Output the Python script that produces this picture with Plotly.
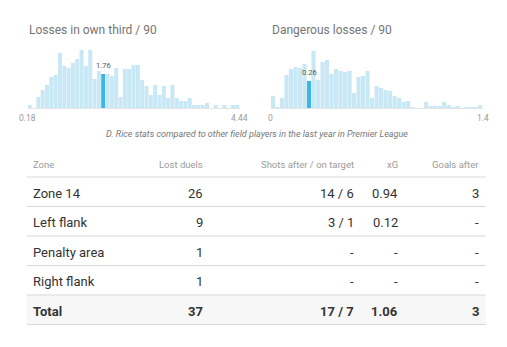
import numpy as np
import plotly.graph_objects as go

W, H = 507, 347

# ---------------- data ----------------
hist_titles = ["Losses in own third / 90", "Dangerous losses / 90"]

own_third_counts = [3, 0, 11, 18, 23, 31, 33, 55, 42, 40, 45, 49, 58, 42, 58, 29, 37,
                    34, 34, 32, 40, 11, 39, 39, 43, 43, 28, 22, 13, 23, 13, 22, 10, 23,
                    10, 7, 7, 10, 3, 3, 3, 5, 0, 3, 0, 3, 0, 3, 3]
own_third_range = [0.18, 4.44]
own_third_player = "1.76"
own_third_idx = 17

dangerous_counts = [12, 1, 10, 33, 39, 41, 40, 44, 27, 57, 28, 46, 48, 34, 39, 37, 36,
                    37, 15, 31, 32, 37, 10, 22, 20, 18, 17, 12, 10, 6, 7, 1, 0, 0, 6,
                    2, 2, 2, 6, 3, 1, 2, 0, 1, 1, 1, 3]
dangerous_range = [0, 1.4]
dangerous_player = "0.26"
dangerous_idx = 8

caption = "D. Rice stats compared to other field players in the last year in Premier League"

table_header = ["Zone", "Lost duels", "Shots after / on target", "xG", "Goals after"]
zones = ["Zone 14", "Left flank", "Penalty area", "Right flank"]
lost_duels = ["26", "9", "1", "1"]
shots_on_target = ["14 / 6", "3 / 1", "-", "-"]
xg = ["0.94", "0.12", "-", "-"]
goals_after = ["3", "-", "-", "-"]
total_row = ["Total", "37", "17 / 7", "1.06", "3"]

# ---------------- styling ----------------
FONT = "Roboto"
LIGHT = "#c8e8f6"
HIGHLIGHT = "#3cb4e5"


def px(x):
    return x / W


def py(y):
    return 1 - y / H


fig = go.Figure()

hists = [
    (own_third_counts, own_third_range, own_third_idx, own_third_player, (27.5, 239.5), "x", "y"),
    (dangerous_counts, dangerous_range, dangerous_idx, dangerous_player, (270.7, 482.5), "x2", "y2"),
]

annotations = []
shapes = []
layout_axes = {}

for k, (counts, rng, idx, label, (x0, x1), xa, ya) in enumerate(hists):
    n = len(counts)
    edges = np.linspace(rng[0], rng[1], n + 1)
    centers = (edges[:-1] + edges[1:]) / 2
    colors = [HIGHLIGHT if i == idx else LIGHT for i in range(n)]
    fig.add_trace(go.Bar(x=centers, y=counts, marker=dict(color=colors, line=dict(width=0)),
                         xaxis=xa, yaxis=ya, hoverinfo="skip", showlegend=False))
    suffix = "" if k == 0 else "2"
    layout_axes["xaxis" + suffix] = dict(domain=[px(x0), px(x1)], range=rng, showgrid=False,
                                         zeroline=False, showticklabels=False, showline=True,
                                         linecolor="#e4e4e4", linewidth=1, anchor=ya, fixedrange=True)
    layout_axes["yaxis" + suffix] = dict(domain=[py(108), py(48)], range=[0, 60], visible=False,
                                         anchor=xa, fixedrange=True)
    # title
    annotations.append(dict(text=hist_titles[k], x=px(x0 - 1), y=py(30), xref="paper", yref="paper",
                            xanchor="left", yanchor="middle", showarrow=False,
                            font=dict(family=FONT, size=12, color="#757575")))
    # ends
    for v in rng:
        annotations.append(dict(text=("%g" % v), x=v, y=py(118), xref=xa, yref="paper",
                                xanchor="center", yanchor="middle", showarrow=False,
                                font=dict(family=FONT, size=8.5, color="#9a9a9a")))
    # player value
    annotations.append(dict(text=label, x=centers[idx], y=counts[idx], xref=xa, yref=ya,
                            xanchor="center", yanchor="bottom", yshift=2, showarrow=False,
                            font=dict(family=FONT, size=7.5, color="#555555")))

annotations.append(dict(text="<i>" + caption + "</i>", x=px(257), y=py(134), xref="paper",
                        yref="paper", xanchor="center", yanchor="middle", showarrow=False,
                        font=dict(family=FONT, size=9, color="#777777")))

# ---------------- table ----------------
tx0, tx1 = 27, 486
col_x = [30.5, 205, 356, 400, 481]
col_anchor = ["left", "right", "right", "right", "right"]
header_y = 164
line0 = 177
row_h = 29.5

for j, h in enumerate(table_header):
    annotations.append(dict(text=h, x=px(col_x[j]), y=py(header_y), xref="paper", yref="paper",
                            xanchor=col_anchor[j], yanchor="middle", showarrow=False,
                            font=dict(family=FONT, size=9.5, color="#9b9b9b")))

rows = [list(r) for r in zip(zones, lost_duels, shots_on_target, xg, goals_after)]
all_rows = rows + [total_row]

# total background
n_rows = len(all_rows)
shapes.append(dict(type="rect", xref="paper", yref="paper",
                   x0=px(tx0), x1=px(tx1), y0=py(line0 + row_h * n_rows),
                   y1=py(line0 + row_h * (n_rows - 1)),
                   fillcolor="#f7f7f7", line=dict(width=0), layer="below"))

for i, r in enumerate(all_rows):
    is_total = i == n_rows - 1
    yc = line0 + row_h * i + row_h / 2 + 1.5
    for j, v in enumerate(r):
        txt = "<b>%s</b>" % v if is_total else v
        annotations.append(dict(text=txt, x=px(col_x[j]), y=py(yc), xref="paper", yref="paper",
                                xanchor=col_anchor[j], yanchor="middle", showarrow=False,
                                font=dict(family=FONT, size=13, color="#333333")))

for i in range(n_rows + 1):
    yl = line0 + row_h * i
    shapes.append(dict(type="line", xref="paper", yref="paper", x0=px(tx0), x1=px(tx1),
                       y0=py(yl), y1=py(yl), line=dict(color="#d9d9d9", width=1)))

fig.update_layout(
    width=W, height=H, margin=dict(l=0, r=0, t=0, b=0),
    paper_bgcolor="white", plot_bgcolor="rgba(0,0,0,0)",
    bargap=0.08, annotations=annotations, shapes=shapes,
    font=dict(family=FONT),
    **layout_axes,
)

fig.write_html("out.html", config={"displayModeBar": False})
